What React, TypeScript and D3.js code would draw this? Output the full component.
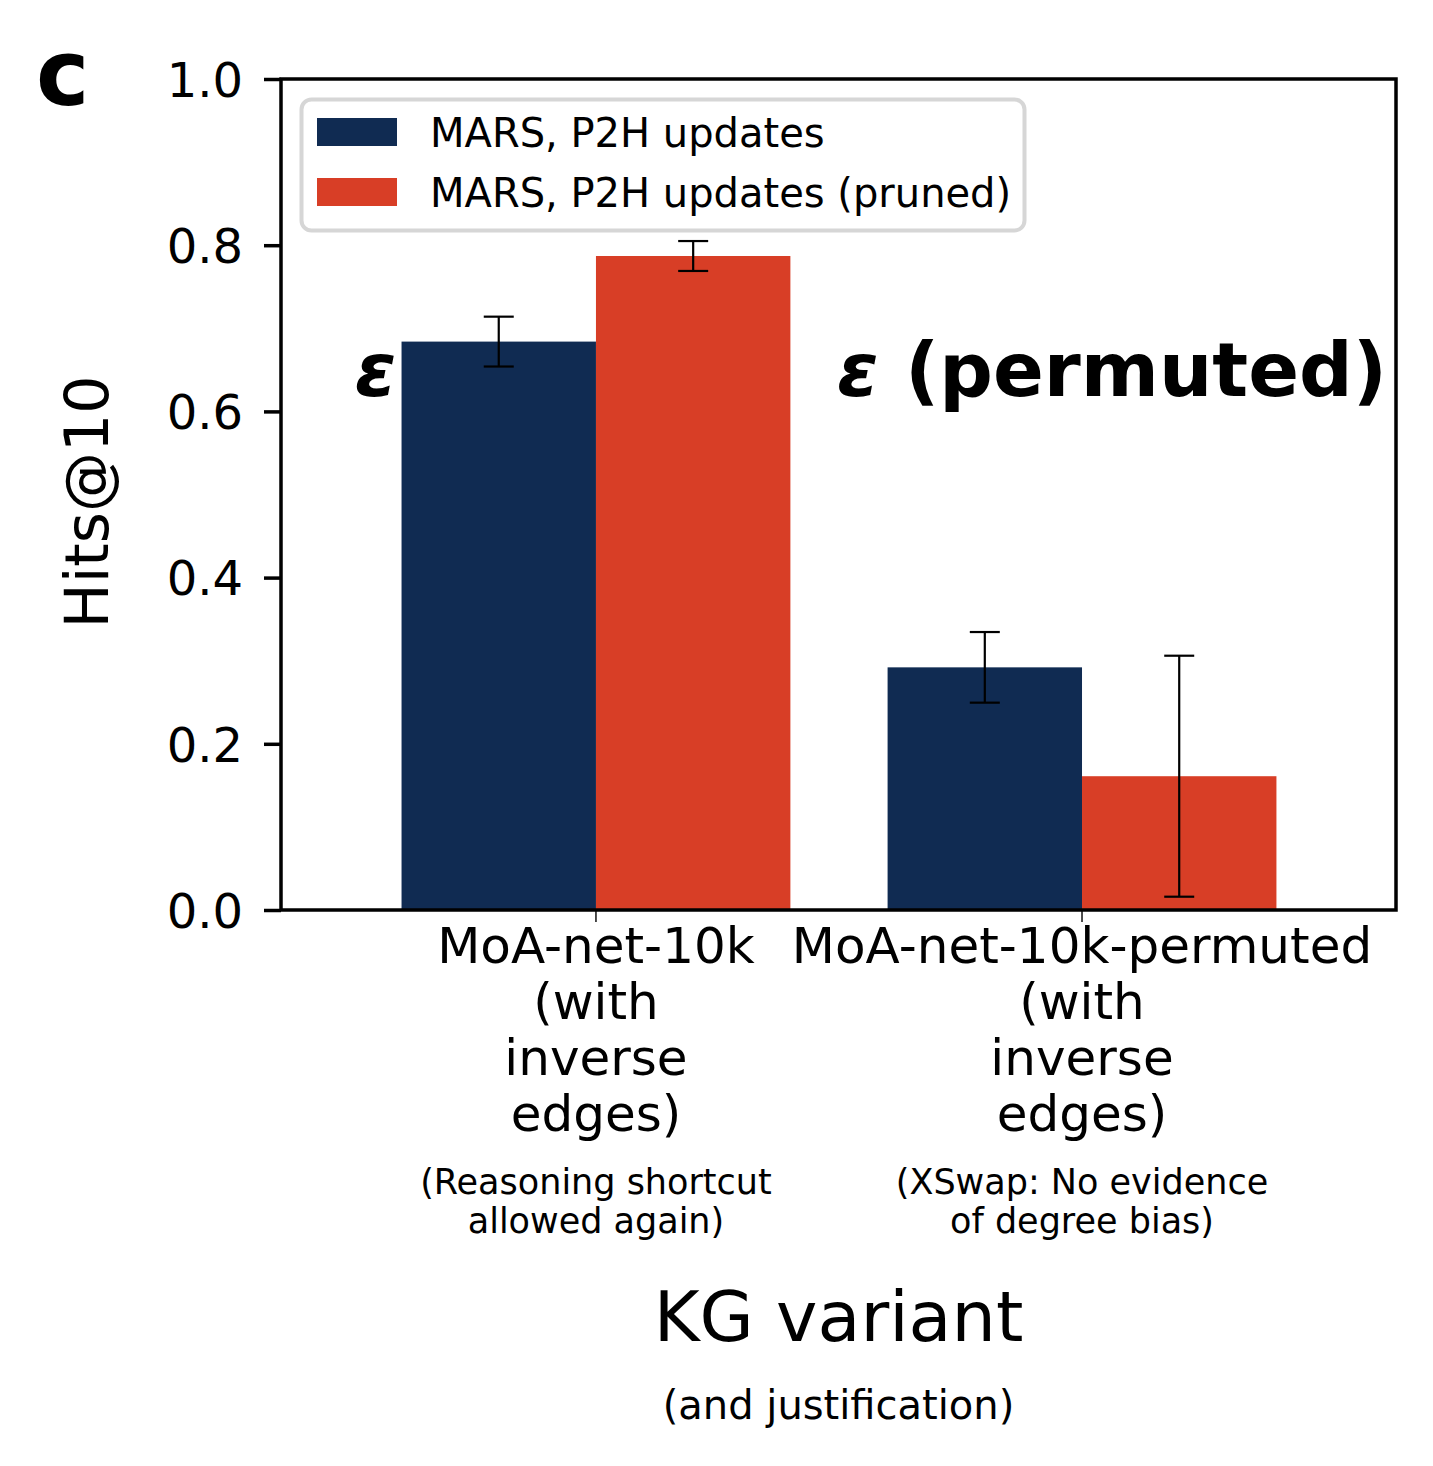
import { axisLeft, scaleLinear, select } from "d3";
import { useEffect, useRef } from "react";

// KG variants along the x axis (multi-line tick labels + justification notes)
const categoryLines = [
  ["MoA-net-10k", "(with", "inverse", "edges)"],
  ["MoA-net-10k-permuted", "(with", "inverse", "edges)"],
];
const categoryNotes = [
  ["(Reasoning shortcut", "allowed again)"],
  ["(XSwap: No evidence", "of degree bias)"],
];

const seriesNames = ["MARS, P2H updates", "MARS, P2H updates (pruned)"];
const seriesColors = ["#102b52", "#d83e26"];

// Hits@10 means and error half-widths per KG variant
const p2hValues = [0.684, 0.292];
const p2hErrors = [0.03, 0.0425];
const prunedValues = [0.787, 0.161];
const prunedErrors = [0.018, 0.145];

const yTicks = [0, 0.2, 0.4, 0.6, 0.8, 1.0];

const FONT = "DejaVu Sans";
const BAR_WIDTH = 0.4;

const plot = { left: 281, right: 1396, top: 79, bottom: 910 };

function AxisLeft({ scale }) {
  const ref = useRef(null);

  useEffect(() => {
    if (ref.current) {
      const g = select(ref.current);
      g.call(
        axisLeft(scale)
          .tickValues(yTicks)
          .tickSize(17)
          .tickPadding(21)
          .tickFormat((d) => d.toFixed(1))
      );
      g.select(".domain").remove();
      g.selectAll(".tick line").attr("stroke", "black").attr("stroke-width", 3.5);
      g.selectAll(".tick text")
        .attr("font-family", FONT)
        .attr("font-size", 48)
        .attr("fill", "black")
        .attr("dy", "0.36em");
    }
  }, [scale]);

  return <g ref={ref} transform={`translate(${plot.left}, 0)`} />;
}

function ErrorBar({ x, y, value, err }) {
  const cap = 15;
  return (
    <g stroke="black" strokeWidth={2.2}>
      <line x1={x} x2={x} y1={y(value + err)} y2={y(value - err)} />
      <line x1={x - cap} x2={x + cap} y1={y(value + err)} y2={y(value + err)} />
      <line x1={x - cap} x2={x + cap} y1={y(value - err)} y2={y(value - err)} />
    </g>
  );
}

export default function App() {
  const x = scaleLinear().domain([-0.648, 1.646]).range([plot.left, plot.right]);
  const y = scaleLinear().domain([0, 1]).range([plot.bottom, plot.top]);
  const bw = x(BAR_WIDTH) - x(0);

  const series = [
    { values: p2hValues, errors: p2hErrors, offset: -BAR_WIDTH / 2 },
    { values: prunedValues, errors: prunedErrors, offset: BAR_WIDTH / 2 },
  ];

  return (
    <svg
      width={1433}
      height={1466}
      style={{ position: "absolute", left: 0, top: 0, background: "white" }}
      fontFamily={FONT}
    >
      {/* bars */}
      {series.map((s, si) =>
        s.values.map((v, i) => (
          <rect
            key={`bar-${si}-${i}`}
            x={x(i + s.offset) - bw / 2}
            y={y(v)}
            width={bw}
            height={y(0) - y(v)}
            fill={seriesColors[si]}
          />
        ))
      )}

      {/* error bars */}
      {series.map((s, si) =>
        s.values.map((v, i) => (
          <ErrorBar key={`err-${si}-${i}`} x={x(i + s.offset)} y={y} value={v} err={s.errors[i]} />
        ))
      )}

      {/* annotations */}
      <text
        x={x(-BAR_WIDTH) - 5}
        y={396}
        textAnchor="end"
        fontSize={75}
        fontWeight="bold"
        fontStyle="italic"
      >
        ε
      </text>
      <text x={plot.right - 9} y={396} textAnchor="end" fontSize={75} fontWeight="bold">
        <tspan fontStyle="italic">ε</tspan> (permuted)
      </text>

      {/* x ticks */}
      {categoryLines.map((_, i) => (
        <line
          key={`xt-${i}`}
          x1={x(i)}
          x2={x(i)}
          y1={plot.bottom}
          y2={plot.bottom + 12}
          stroke="black"
          strokeWidth={1.4}
        />
      ))}

      {/* frame */}
      <rect
        x={plot.left}
        y={plot.top}
        width={plot.right - plot.left}
        height={plot.bottom - plot.top}
        fill="none"
        stroke="black"
        strokeWidth={3.5}
      />

      <AxisLeft scale={y} />

      {/* x tick labels */}
      {categoryLines.map((lines, i) => (
        <text key={`xl-${i}`} x={x(i)} y={963} textAnchor="middle" fontSize={50}>
          {lines.map((line, li) => (
            <tspan key={li} x={x(i)} dy={li === 0 ? 0 : 56}>
              {line}
            </tspan>
          ))}
        </text>
      ))}
      {categoryNotes.map((lines, i) => (
        <text key={`xn-${i}`} x={x(i)} y={1194} textAnchor="middle" fontSize={35}>
          {lines.map((line, li) => (
            <tspan key={li} x={x(i)} dy={li === 0 ? 0 : 39}>
              {line}
            </tspan>
          ))}
        </text>
      ))}

      {/* axis titles */}
      <text
        x={(plot.left + plot.right) / 2}
        y={1341}
        textAnchor="middle"
        fontSize={70}
      >
        KG variant
      </text>
      <text
        x={(plot.left + plot.right) / 2}
        y={1419}
        textAnchor="middle"
        fontSize={40}
      >
        (and justification)
      </text>
      <text
        transform={`translate(108, 502) rotate(-90)`}
        textAnchor="middle"
        fontSize={60}
      >
        Hits@10
      </text>

      {/* panel letter */}
      <text x={36} y={105} fontSize={90} fontWeight="bold">
        c
      </text>

      {/* legend */}
      <g>
        <rect
          x={301.5}
          y={99.5}
          width={723}
          height={131}
          rx={10}
          fill="white"
          fillOpacity={0.8}
          stroke="#d6d6d6"
          strokeWidth={4}
        />
        {seriesNames.map((name, i) => (
          <g key={name} transform={`translate(0, ${i * 60})`}>
            <rect x={317} y={118} width={80} height={28} fill={seriesColors[i]} />
            <text x={430} y={146.5} fontSize={40}>
              {name}
            </text>
          </g>
        ))}
      </g>
    </svg>
  );
}
